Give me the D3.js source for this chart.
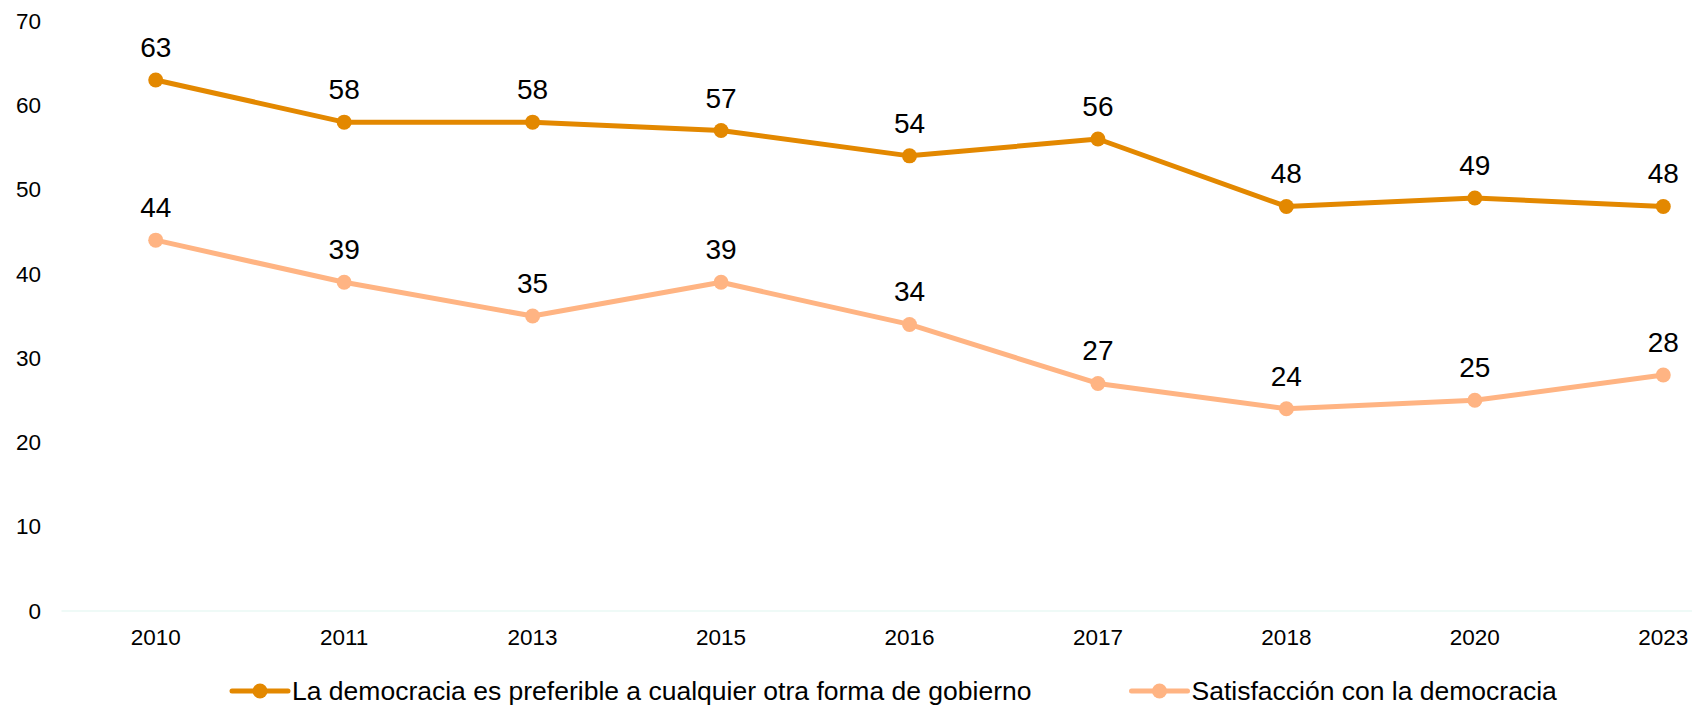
<!DOCTYPE html>
<html>
<head>
<meta charset="utf-8">
<script src="https://cdn.jsdelivr.net/npm/d3@7"></script>
<style>
  html, body { margin: 0; padding: 0; background: #ffffff; }
  svg { display: block; font-family: "Liberation Sans", Arial, sans-serif; }
</style>
</head>
<body>
<svg id="chart" width="1692" height="705"></svg>
<script>
const years = ["2010", "2011", "2013", "2015", "2016", "2017", "2018", "2020", "2023"];
const preferible = [63, 58, 58, 57, 54, 56, 48, 49, 48];
const satisfaccion = [44, 39, 35, 39, 34, 27, 24, 25, 28];
const yTicks = [0, 10, 20, 30, 40, 50, 60, 70];
const seriesNames = ["La democracia es preferible a cualquier otra forma de gobierno", "Satisfacción con la democracia"];
const seriesColors = ["#E38800", "#FFB483"];

const series = [
  { name: seriesNames[0], values: preferible, color: seriesColors[0] },
  { name: seriesNames[1], values: satisfaccion, color: seriesColors[1] }
];

const svg = d3.select("#chart");
const W = 1692, H = 705;

const x = d3.scaleBand().domain(years).range([61.5, 1757.5]).padding(0);
const y = d3.scaleLinear().domain([0, 70]).range([611, 21]);
const cx = d => x(d) + x.bandwidth() / 2;

// baseline
svg.append("line")
  .attr("x1", 61.5).attr("x2", W)
  .attr("y1", y(0)).attr("y2", y(0))
  .attr("stroke", "#EAF8F4").attr("stroke-width", 1.5);

// y axis labels
const yAxis = d3.axisLeft(y).tickValues(yTicks).tickSize(0).tickPadding(0);
const yg = svg.append("g").attr("transform", "translate(41,0)").call(yAxis);
yg.select(".domain").remove();
yg.selectAll("text").attr("font-size", 22.5).attr("fill", "#000").attr("font-family", "Liberation Sans, Arial, sans-serif");

// x axis labels
const xAxis = d3.axisBottom(x).tickSize(0).tickPadding(0);
const xg = svg.append("g").attr("transform", "translate(0,629)").call(xAxis);
xg.select(".domain").remove();
xg.selectAll("text").attr("font-size", 22.5).attr("fill", "#000").attr("font-family", "Liberation Sans, Arial, sans-serif");

const line = d3.line().x((d, i) => cx(years[i])).y(d => y(d));

series.forEach(s => {
  const g = svg.append("g");
  g.append("path")
    .datum(s.values)
    .attr("d", line)
    .attr("fill", "none")
    .attr("stroke", s.color)
    .attr("stroke-width", 5)
    .attr("stroke-linejoin", "round");
  g.selectAll("circle").data(s.values).join("circle")
    .attr("cx", (d, i) => cx(years[i]))
    .attr("cy", d => y(d))
    .attr("r", 7.5)
    .attr("fill", s.color);
  g.selectAll("text").data(s.values).join("text")
    .attr("x", (d, i) => cx(years[i]))
    .attr("y", d => y(d) - 23)
    .attr("text-anchor", "middle")
    .attr("font-size", 28)
    .attr("fill", "#000")
    .text(d => d);
});

// legend
const legendItems = [
  { x0: 232, text: series[0].name, color: series[0].color },
  { x0: 1131.5, text: series[1].name, color: series[1].color }
];
legendItems.forEach(it => {
  const g = svg.append("g");
  g.append("line")
    .attr("x1", it.x0).attr("x2", it.x0 + 56)
    .attr("y1", 691).attr("y2", 691)
    .attr("stroke", it.color).attr("stroke-width", 5).attr("stroke-linecap", "round");
  g.append("circle").attr("cx", it.x0 + 28).attr("cy", 691).attr("r", 7.5).attr("fill", it.color);
  g.append("text")
    .attr("x", it.x0 + 60).attr("y", 699.5)
    .attr("font-size", 26.5).attr("fill", "#000")
    .text(it.text);
});
</script>
</body>
</html>
